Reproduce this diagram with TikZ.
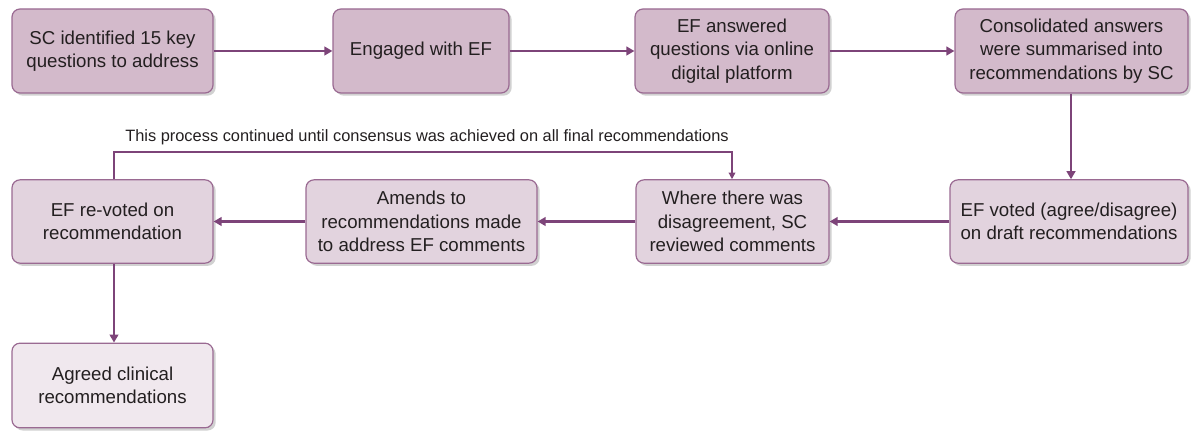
\documentclass[tikz,border=0pt]{standalone}
\usepackage{fontspec}
\setmainfont{Liberation Sans}
\usetikzlibrary{arrows.meta,shadows}
\definecolor{boxA}{HTML}{D3BACB}
\definecolor{boxB}{HTML}{E2D3DE}
\definecolor{boxC}{HTML}{F0E8EE}
\definecolor{edge}{HTML}{9A6A92}
\definecolor{arr}{HTML}{7D4479}
\definecolor{txt}{HTML}{231F20}
\tikzset{
  stepbox/.style={draw=edge, line width=0.9pt, rounded corners=6pt, align=center,
    text=txt, font=\fontsize{14pt}{17.4pt}\selectfont, inner sep=0pt,
    drop shadow={shadow xshift=2pt, shadow yshift=-2pt, fill=black, opacity=0.18}},
  rowA/.style={stepbox, fill=boxA, minimum height=63pt},
  rowB/.style={stepbox, fill=boxB, minimum height=62.5pt},
  rowC/.style={stepbox, fill=boxC, minimum height=63.5pt},
  flow/.style={draw=arr, line width=1.9pt, -{Triangle[length=6pt,width=6.5pt]}},
  loop/.style={draw=arr, line width=1pt, -{Triangle[length=5pt,width=5pt]}},
}
\begin{document}
\begin{tikzpicture}[x=0.75pt,y=-0.75pt]
\useasboundingbox (0,0) rectangle (1191,431);
% top row
\node[rowA, minimum width=150.75pt] (b1) at (112.5,51) {SC identified 15 key\\questions to address};
\node[rowA, minimum width=132pt] (b2) at (421,51) {Engaged with EF};
\node[rowA, minimum width=145.5pt] (b3) at (732,51) {EF answered\\questions via online\\digital platform};
\node[rowA, minimum width=174.75pt] (b4) at (1071.5,51) {Consolidated answers\\were summarised into\\recommendations by SC};
% second row
\node[rowB, minimum width=178.5pt] (c1) at (1069,221.5) {EF voted (agree/disagree)\\on draft recommendations};
\node[rowB, minimum width=144.75pt] (c2) at (732.5,221.5) {Where there was\\disagreement, SC\\reviewed comments};
\node[rowB, minimum width=173.25pt] (c3) at (421.5,221.5) {Amends to\\recommendations made\\to address EF comments};
\node[rowB, minimum width=150.75pt] (c4) at (112.5,221.5) {EF re-voted on\\recommendation};
% last
\node[rowC, minimum width=150.75pt] (d) at (112.5,385.5) {Agreed clinical\\recommendations};
% connectors
\draw[flow] (b1) -- (b2);
\draw[flow] (b2) -- (b3);
\draw[flow] (b3) -- (b4);
\draw[flow] (b4.south -| 1071,0) -- (c1.north -| 1071,0);
\draw[flow] (c1) -- (c2);
\draw[flow] (c2) -- (c3);
\draw[flow] (c3) -- (c4);
\draw[flow] (c4.south -| 114,0) -- (d.north -| 114,0);
\coordinate (l1) at (114,152);
\coordinate (l2) at (732,152);
\draw[loop] (c4.north -| l1) -- (l1) -- (l2) -- (c2.north -| l2);
\node[anchor=base west, inner sep=0pt, text=txt, font=\fontsize{12.3pt}{14pt}\selectfont] (cap) at (125,142)
  {This process continued until consensus was achieved on all final recommendations};
\end{tikzpicture}
\end{document}
